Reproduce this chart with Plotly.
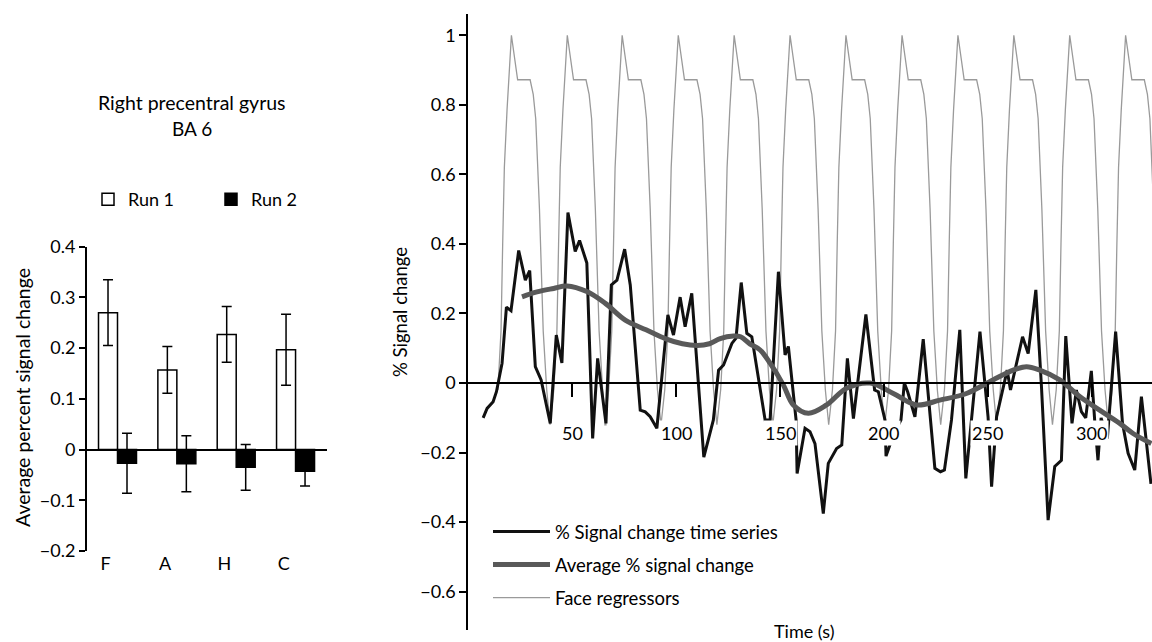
import plotly.graph_objects as go

FONT = "Lato"

# ---------------- Left panel data ----------------
categories = ["F", "A", "H", "C"]
run1_values = [0.270, 0.157, 0.227, 0.197]
run1_errors = [0.065, 0.046, 0.055, 0.070]
run2_values = [-0.027, -0.028, -0.035, -0.043]
run2_errors = [0.059, 0.055, 0.045, 0.029]
left_yticks = [-0.2, -0.1, 0, 0.1, 0.2, 0.3, 0.4]
left_title = ["Right precentral gyrus", "BA 6"]

# ---------------- Right panel data ----------------
ts_time = [7.1, 9.0, 11.9, 13.5, 16.2, 18.3, 20.5, 24.2, 27.4, 29.5, 32.2, 35.0, 39.4, 42.3, 45.0,
           47.9, 51.4, 53.5, 57.0, 59.8, 62.2, 66.2, 68.8, 71.5, 75.2, 77.9, 82.7, 85.1, 87.5, 90.7,
           96.0, 98.7, 101.9, 104.3, 107.5, 113.3, 117.9, 120.4, 122.8, 126.8, 128.8, 131.3, 134.0,
           136.4, 142.8, 145.2, 149.2, 152.4, 154.0, 157.7, 158.2, 162.0, 164.4, 166.8, 170.8, 173.2,
           177.2, 179.7, 182.4, 185.3, 191.3, 195.5, 197.3, 200.5, 201.0, 204.5, 208.2, 209.8, 211.4,
           214.9, 218.9, 224.5, 227.2, 229.1, 232.5, 236.5, 239.4, 242.2, 246.2, 250.1, 251.8, 254.2,
           259.3, 260.9, 266.7, 269.4, 273.1, 275.8, 279.0, 282.2, 285.4, 287.5, 290.5, 292.6, 295.0,
           297.1, 299.8, 301.4, 303.0, 304.5, 307.5, 311.5, 314.8, 317.5, 320.7, 323.9, 328.5]
ts_value = [-0.100, -0.073, -0.054, -0.025, 0.057, 0.218, 0.208, 0.381, 0.296, 0.323, 0.047, 0.009,
            -0.116, 0.138, 0.058, 0.490, 0.378, 0.410, 0.345, -0.159, 0.071, -0.116, 0.282, 0.296,
            0.385, 0.282, -0.078, -0.083, -0.097, -0.130, 0.196, 0.138, 0.247, 0.162, 0.258, -0.213,
            -0.106, 0.037, 0.052, 0.114, 0.129, 0.289, 0.143, 0.133, -0.106, -0.106, 0.320, 0.081,
            0.105, -0.106, -0.260, -0.130, -0.140, -0.174, -0.375, -0.231, -0.188, -0.178, 0.071,
            -0.102, 0.197, -0.020, -0.025, -0.106, -0.210, -0.150, -0.106, 0.000, -0.025, -0.097,
            0.126, -0.245, -0.255, -0.250, -0.106, 0.153, -0.274, -0.100, 0.148, -0.097, -0.298,
            -0.097, 0.037, -0.020, 0.133, 0.085, 0.268, -0.010, -0.394, -0.240, -0.222, 0.135,
            -0.116, -0.020, -0.082, -0.100, 0.035, -0.106, -0.222, -0.100, -0.160, 0.148, -0.116,
            -0.202, -0.250, -0.039, -0.290]

avg_time = [25.8, 33.0, 41.0, 47.4, 57.0, 65.9, 75.5, 85.5, 95.0, 103.0, 110.0, 116.0, 121.2, 127.6,
            131.0, 135.6, 140.4, 145.2, 151.6, 156.4, 163.6, 172.4, 182.0, 193.3, 204.5, 215.7,
            226.9, 239.7, 252.5, 262.2, 268.6, 275.0, 284.6, 294.2, 303.8, 313.5, 319.9, 328.7]
avg_value = [0.248, 0.262, 0.272, 0.279, 0.263, 0.229, 0.181, 0.153, 0.127, 0.113, 0.108, 0.113,
             0.128, 0.135, 0.133, 0.112, 0.095, 0.057, -0.006, -0.063, -0.087, -0.063, -0.015,
             0.000, -0.030, -0.063, -0.049, -0.030, 0.009, 0.037, 0.047, 0.037, 0.009, -0.039,
             -0.078, -0.116, -0.145, -0.174]

regressor_peak_times = [20.7, 47.6, 74.0, 101.0, 127.9, 154.8, 181.7, 208.7, 235.6, 262.5, 289.4, 316.3]
regressor_offsets = [-8.3, -6.5, -5.0, -4.2, -3.4, -2.1, 0.0, 3.0, 9.0, 10.5, 11.7, 13.5, 15.3, 17.0, 18.6]
regressor_shape = [-0.12, -0.02, 0.15, 0.40, 0.62, 0.786, 1.0, 0.872, 0.872, 0.83, 0.76, 0.50, 0.15, -0.02, -0.12]

right_yticks = [-0.6, -0.4, -0.2, 0, 0.2, 0.4, 0.6, 0.8, 1]
time_ticks = [50, 100, 150, 200, 250, 300]
legend_names = ["% Signal change time series", "Average % signal change", "Face regressors"]

reg_t, reg_v = [], []
for i, peak in enumerate(regressor_peak_times):
    for j, (off, val) in enumerate(zip(regressor_offsets, regressor_shape)):
        if j == 0 and i == 0:
            continue
        reg_t.append(peak + off)
        reg_v.append(val)

fig = go.Figure()

# ---- bars ----
xpos = list(range(len(categories)))
fig.add_trace(go.Bar(
    x=xpos, y=run1_values, name="Run 1", legend="legend2",
    marker=dict(color="white", line=dict(color="black", width=1.5)),
    error_y=dict(type="data", array=run1_errors, color="black", thickness=1.5, width=5),
    xaxis="x", yaxis="y", offsetgroup="1",
))
fig.add_trace(go.Bar(
    x=xpos, y=run2_values, name="Run 2", legend="legend2",
    marker=dict(color="black", line=dict(color="black", width=1.5)),
    error_y=dict(type="data", array=run2_errors, color="black", thickness=1.5, width=5),
    xaxis="x", yaxis="y", offsetgroup="2",
))

# ---- lines ----
fig.add_trace(go.Scatter(
    x=reg_t, y=reg_v, mode="lines", name=legend_names[2], legendrank=3, legendgroup="c",
    line=dict(color="#9a9a9a", width=1.3), xaxis="x2", yaxis="y2",
))
fig.add_trace(go.Scatter(
    x=ts_time, y=ts_value, mode="lines", name=legend_names[0], legendrank=1, legendgroup="a",
    line=dict(color="#111111", width=3), xaxis="x2", yaxis="y2",
))
fig.add_trace(go.Scatter(
    x=avg_time, y=avg_value, mode="lines", name=legend_names[1], legendrank=2, legendgroup="b",
    line=dict(color="#595959", width=5, shape="spline"), xaxis="x2", yaxis="y2",
))

W, H = 1152, 642
annotations = []
for t in time_ticks:
    annotations.append(dict(x=t, y=-0.143, xref="x2", yref="y2", text=str(t), showarrow=False,
                            xanchor="center", yanchor="middle",
                            bgcolor="white", borderpad=1, font=dict(size=18, color="black", family=FONT)))
annotations += [
    dict(x=192 / W, y=1 - 103 / H, xref="paper", yref="paper", text=left_title[0], showarrow=False,
         xanchor="center", yanchor="middle", font=dict(size=19.5, color="black", family=FONT)),
    dict(x=192 / W, y=1 - 129 / H, xref="paper", yref="paper", text=left_title[1], showarrow=False,
         xanchor="center", yanchor="middle", font=dict(size=19, color="black", family=FONT)),
    dict(x=22 / W, y=1 - 398 / H, xref="paper", yref="paper", text="Average percent signal change",
         textangle=-90, showarrow=False, xanchor="center", yanchor="middle",
         font=dict(size=19.5, color="black", family=FONT)),
    dict(x=400 / W, y=1 - 312 / H, xref="paper", yref="paper", text="% Signal change",
         textangle=-90, showarrow=False, xanchor="center", yanchor="middle",
         font=dict(size=18.5, color="black", family=FONT)),
    dict(x=804 / W, y=1 - 631 / H, xref="paper", yref="paper", text="Time (s)",
         showarrow=False, xanchor="center", yanchor="middle",
         font=dict(size=18, color="black", family=FONT)),
]

fig.update_layout(
    template="none",
    width=W, height=H, margin=dict(l=0, r=0, t=0, b=0, pad=0, autoexpand=False),
    paper_bgcolor="white", plot_bgcolor="white",
    font=dict(family=FONT, size=18, color="black"),
    barmode="group", bargap=0.36, bargroupgap=0,
    xaxis=dict(domain=[87 / W, 327 / W], range=[-0.514, 3.53], anchor="y", automargin=False,
               tickvals=[p - 0.2 for p in xpos], ticktext=categories, ticks="",
               showline=False, showgrid=False, zeroline=False, tickfont=dict(size=18)),
    yaxis=dict(domain=[1 - 551 / H, 1 - 246.7 / H], range=[-0.2, 0.4], anchor="x", automargin=False,
               tickvals=left_yticks, ticks="outside", ticklen=6, tickwidth=1.5, tickcolor="black",
               showline=True, linewidth=2, linecolor="black", showgrid=False,
               zeroline=True, zerolinecolor="black", zerolinewidth=1.5, tickfont=dict(size=18)),
    xaxis2=dict(domain=[468.4 / W, 1.0], range=[0, 329], anchor="free", position=1 - 383.3 / H,
                automargin=False, tickvals=time_ticks, showticklabels=False, ticks="outside",
                ticklen=13, tickwidth=1.5, tickcolor="black",
                showline=True, linewidth=1.5, linecolor="black", showgrid=False, zeroline=False),
    yaxis2=dict(domain=[1 - 630 / H, 1 - 14 / H], range=[-0.710, 1.061], anchor="x2", automargin=False,
                tickvals=right_yticks, ticks="outside", ticklen=7, tickwidth=1.5, tickcolor="black",
                showline=True, linewidth=2, linecolor="black", showgrid=False, zeroline=False,
                tickfont=dict(size=18)),
    legend=dict(x=488 / W, y=1 - 513 / H, xanchor="left", yanchor="top", bgcolor="rgba(0,0,0,0)",
                font=dict(size=18.5, family=FONT), tracegroupgap=6, itemwidth=57, traceorder="grouped"),
    legend2=dict(orientation="h", x=88 / W, y=1 - 181 / H, xanchor="left", yanchor="top",
                 bgcolor="rgba(0,0,0,0)", entrywidth=78, entrywidthmode="pixels",
                 font=dict(size=18, family=FONT)),
    annotations=annotations,
)

fig.write_html("out.html", config={"displayModeBar": False},
               post_script="document.body.style.margin='0px';document.body.style.padding='0px';")
